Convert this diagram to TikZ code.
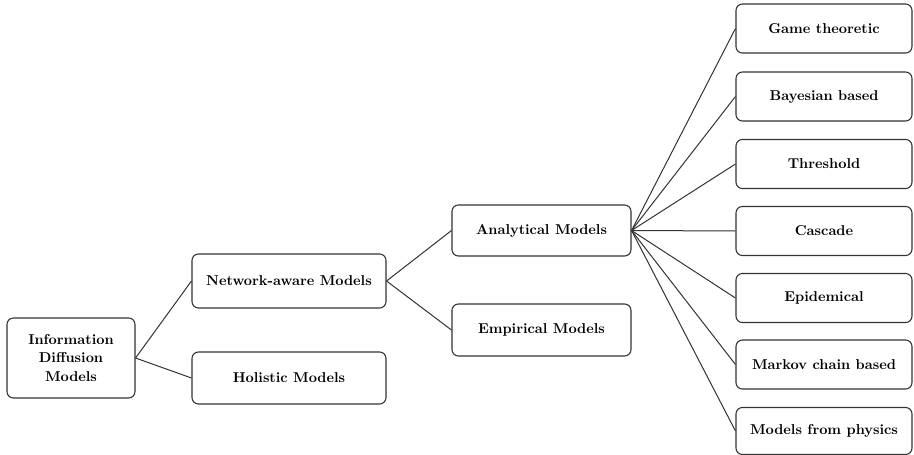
\documentclass[tikz,border=0pt]{standalone}
\begin{document}
\begin{tikzpicture}[x=0.7pt,y=-0.7pt,
  box/.style={draw=black!80, line width=0.75pt, rounded corners=4.5pt, fill=white,
    font=\bfseries, align=center, inner sep=0pt, anchor=center},
  link/.style={draw=black!80, line width=0.7pt}]
\useasboundingbox (0,0) rectangle (914,455);
\node[box, minimum width=128*0.7pt, minimum height=80*0.7pt] (info) at (71,358) {Information\\[1pt]Diffusion\\[1pt]Models};
\node[box, minimum width=194*0.7pt, minimum height=54*0.7pt] (net) at (289,281) {Network-aware Models};
\node[box, minimum width=194*0.7pt, minimum height=52*0.7pt] (hol) at (289,378) {Holistic Models};
\node[box, minimum width=179*0.7pt, minimum height=51*0.7pt] (ana) at (541.5,230.5) {Analytical Models};
\node[box, minimum width=179*0.7pt, minimum height=52*0.7pt] (emp) at (541.5,330) {Empirical Models};
\tikzset{rbox/.style={box, minimum width=176*0.7pt, minimum height=49*0.7pt}}
\node[rbox] (game) at (824,28.5) {Game theoretic};
\node[rbox] (bay) at (824,96.5) {Bayesian based};
\node[rbox] (thr) at (824,164) {Threshold};
\node[rbox] (cas) at (824,231) {Cascade};
\node[rbox] (epi) at (824,298) {Epidemical};
\node[rbox] (mar) at (824,364.5) {Markov chain based};
\node[rbox, minimum height=47*0.7pt] (phy) at (824,431) {Models from physics};
\draw[link] (info.east) -- (net.west);
\draw[link] (info.east) -- (hol.west);
\draw[link] (net.east) -- (ana.west);
\draw[link] (net.east) -- (emp.west);
\foreach \n in {game,bay,thr,cas,epi,mar,phy}
  \draw[link] (ana.east) -- (\n.west);
\end{tikzpicture}
\end{document}
